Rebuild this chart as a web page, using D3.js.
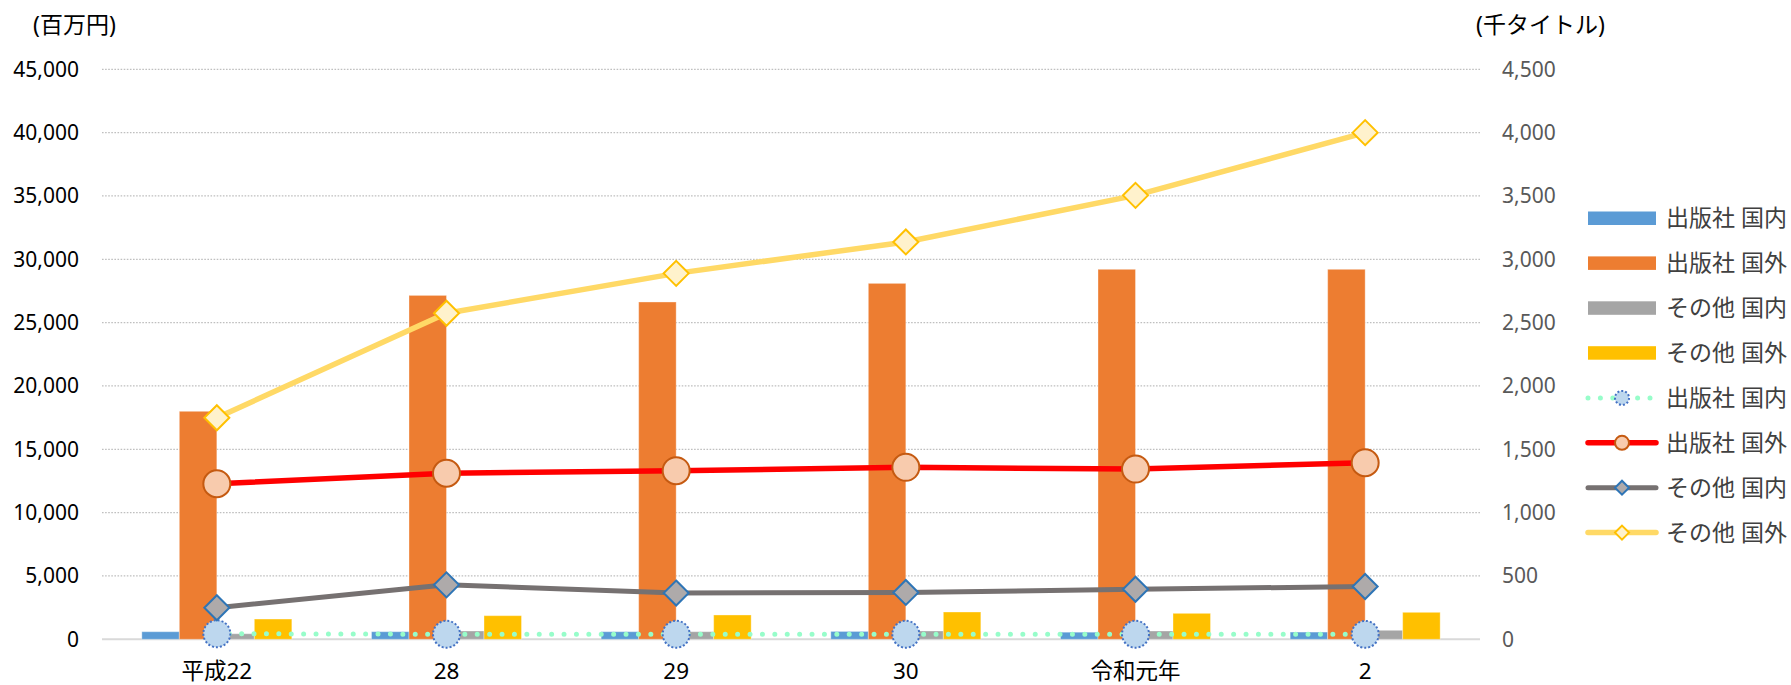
<!DOCTYPE html>
<html>
<head>
<meta charset="utf-8">
<script src="https://cdn.jsdelivr.net/npm/d3@7"></script>
<style>
  body { margin: 0; background: #fff; }
  svg text { font-family: "Noto Sans", "Noto Sans CJK JP", sans-serif; }
</style>
</head>
<body>
<svg width="1791" height="685"></svg>
<script>
// データ（読み取り値）
const categories = ["平成22", "28", "29", "30", "令和元年", "2"];

// 棒グラフ（百万円, 左軸）
const barPubDom = [600, 600, 600, 620, 560, 570];
const barPubFor = [18000, 27150, 26630, 28100, 29210, 29210];
const barOthDom = [440, 655, 600, 655, 655, 710];
const barOthFor = [1600, 1865, 1920, 2155, 2050, 2130];

// 折れ線（千タイトル, 右軸）
const linePubDom = [44, 40, 40, 40, 40, 39];
const linePubFor = [1228, 1311, 1331, 1358, 1344, 1394];
const lineOthDom = [249, 430, 365, 370, 395, 417];
const lineOthFor = [1749, 2574, 2889, 3137, 3505, 4000];

const leftTicks = [0, 5000, 10000, 15000, 20000, 25000, 30000, 35000, 40000, 45000];
const rightTicks = [0, 500, 1000, 1500, 2000, 2500, 3000, 3500, 4000, 4500];

const svg = d3.select("svg");
const plotL = 102, plotR = 1480, plotT = 69.3, plotB = 639.3;

const x0 = d3.scaleBand().domain(categories).range([plotL, plotR]).paddingInner(0);
const bw = x0.bandwidth();
const barKeys = ["pd", "pf", "od", "of"];
const groupW = 150;
const x1 = d3.scaleBand().domain(barKeys).range([(bw - groupW) / 2, (bw + groupW) / 2]);

const yL = d3.scaleLinear().domain([0, 45000]).range([plotB, plotT]);
const yR = d3.scaleLinear().domain([0, 4500]).range([plotB, plotT]);

// グリッド線
svg.append("g").selectAll("line")
  .data(leftTicks.filter(d => d > 0))
  .join("line")
  .attr("x1", plotL).attr("x2", plotR)
  .attr("y1", d => yL(d)).attr("y2", d => yL(d))
  .attr("stroke", "#bfbfbf").attr("stroke-width", 1.3)
  .attr("stroke-dasharray", "1.6 1.5");

svg.append("line")
  .attr("x1", plotL).attr("x2", plotR)
  .attr("y1", yL(0)).attr("y2", yL(0))
  .attr("stroke", "#d9d9d9").attr("stroke-width", 2);

// 軸
const axL = svg.append("g").attr("transform", `translate(${plotL},0)`)
  .call(d3.axisLeft(yL).tickValues(leftTicks).tickFormat(d3.format(",")).tickSize(0).tickPadding(23));
axL.select(".domain").remove();
axL.selectAll("text").attr("font-size", 21).attr("fill", "#000")
  .style("font-family", "'Noto Sans', sans-serif");

const axR = svg.append("g").attr("transform", `translate(${plotR},0)`)
  .call(d3.axisRight(yR).tickValues(rightTicks).tickFormat(d3.format(",")).tickSize(0).tickPadding(22));
axR.select(".domain").remove();
axR.selectAll("text").attr("font-size", 21).attr("fill", "#595959")
  .style("font-family", "'Noto Sans', sans-serif");

const axB = svg.append("g").attr("transform", `translate(0,${plotB})`)
  .call(d3.axisBottom(x0).tickSize(0).tickPadding(24));
axB.select(".domain").remove();
axB.selectAll("text").attr("font-size", 22.5).attr("fill", "#000");

// 単位
svg.append("text").attr("x", 33).attr("y", 33).attr("font-size", 23).attr("fill", "#000").text("(百万円)");
svg.append("text").attr("x", 1476).attr("y", 33).attr("font-size", 23).attr("fill", "#000").text("(千タイトル)");

// 棒
const barSeries = [
  { key: "pd", name: "出版社 国内", values: barPubDom, color: "#5b9bd5" },
  { key: "pf", name: "出版社 国外", values: barPubFor, color: "#ed7d31" },
  { key: "od", name: "その他 国内", values: barOthDom, color: "#a5a5a5" },
  { key: "of", name: "その他 国外", values: barOthFor, color: "#ffc000" }
];

barSeries.forEach(s => {
  svg.append("g").selectAll("rect")
    .data(s.values.map((v, i) => ({ cat: categories[i], v })))
    .join("rect")
    .attr("x", d => x0(d.cat) + x1(s.key))
    .attr("width", x1.bandwidth())
    .attr("y", d => yL(d.v))
    .attr("height", d => yL(0) - yL(d.v))
    .attr("fill", s.color)
    .attr("stroke", "#fff").attr("stroke-opacity", 0.35).attr("stroke-width", 1);
});

// 折れ線
const cx = c => x0(c) + bw / 2;
const lineSeries = [
  { name: "出版社 国内", values: linePubDom, stroke: "#97fdca", width: 5, dash: "0 12.4",
    marker: "circle", fill: "#bdd7ee", mstroke: "#4472c4", mdash: "2 2" },
  { name: "出版社 国外", values: linePubFor, stroke: "#ff0000", width: 5.5, dash: null,
    marker: "circle", fill: "#f8cbad", mstroke: "#c55a11", mdash: null },
  { name: "その他 国内", values: lineOthDom, stroke: "#767171", width: 5, dash: null,
    marker: "diamond", fill: "#aeaaaa", mstroke: "#2e75b6", mdash: null },
  { name: "その他 国外", values: lineOthFor, stroke: "#ffd966", width: 5.5, dash: null,
    marker: "diamond", fill: "#fff2cc", mstroke: "#ffc000", mdash: null }
];

const line = d3.line().x(d => d.x).y(d => d.y);

function drawMarker(g, type, x, y, size, s) {
  let m;
  if (type === "circle") {
    m = g.append("circle").attr("cx", x).attr("cy", y).attr("r", size);
  } else {
    m = g.append("path")
      .attr("d", `M${x},${y - size}L${x + size},${y}L${x},${y + size}L${x - size},${y}Z`);
  }
  m.attr("fill", s.fill).attr("stroke", s.mstroke).attr("stroke-width", 2);
  if (s.mdash) m.attr("stroke-dasharray", s.mdash);
}

lineSeries.forEach(s => {
  const pts = s.values.map((v, i) => ({ x: cx(categories[i]), y: yR(v) }));
  const g = svg.append("g");
  const p = g.append("path")
    .attr("d", line(pts))
    .attr("fill", "none")
    .attr("stroke", s.stroke)
    .attr("stroke-width", s.width)
    .attr("stroke-linejoin", "round")
    .attr("stroke-linecap", s.dash ? "round" : "butt");
  if (s.dash) p.attr("stroke-dasharray", s.dash);
  pts.forEach(d => drawMarker(g, s.marker, d.x, d.y, s.marker === "circle" ? 13.5 : 12.5, s));
});

// 凡例
const lg = svg.append("g");
const legY0 = 218.3, legStep = 44.9, swX = 1588, swW = 68, txtX = 1666;

barSeries.forEach((s, i) => {
  const y = legY0 + i * legStep;
  lg.append("rect").attr("x", swX).attr("y", y - 6.8).attr("width", swW).attr("height", 13.5).attr("fill", s.color);
  lg.append("text").attr("x", txtX).attr("y", y).attr("dy", "0.35em")
    .attr("font-size", 23).attr("fill", "#404040").text(s.name);
});

lineSeries.forEach((s, i) => {
  const y = legY0 + (i + 4) * legStep;
  const l = lg.append("line").attr("x1", swX).attr("x2", swX + swW).attr("y1", y).attr("y2", y)
    .attr("stroke", s.stroke).attr("stroke-width", s.width).attr("stroke-linecap", "round");
  if (s.dash) l.attr("stroke-dasharray", s.dash);
  drawMarker(lg, s.marker, swX + swW / 2, y, 7, s);
  lg.append("text").attr("x", txtX).attr("y", y).attr("dy", "0.35em")
    .attr("font-size", 23).attr("fill", "#404040").text(s.name);
});
</script>
</body>
</html>
